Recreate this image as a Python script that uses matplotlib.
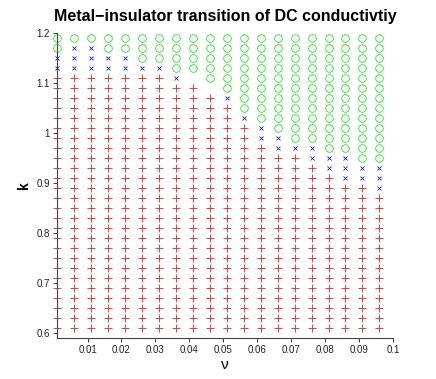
import numpy as np
import matplotlib
matplotlib.use('Agg')
import matplotlib.pyplot as plt

# nu values (columns) and k values (rows, top to bottom)
nu = [0.001, 0.006, 0.011, 0.016, 0.021, 0.026, 0.031, 0.036, 0.041, 0.046,
      0.051, 0.056, 0.061, 0.066, 0.071, 0.076, 0.081, 0.086, 0.091, 0.096]
k = [1.19, 1.17, 1.15, 1.13, 1.11, 1.09, 1.07, 1.05, 1.03, 1.01,
     0.99, 0.97, 0.95, 0.93, 0.91, 0.89, 0.87, 0.85, 0.83, 0.81,
     0.79, 0.77, 0.75, 0.73, 0.71, 0.69, 0.67, 0.65, 0.63, 0.61]

# phase per grid point: R = metal (+), B = transition (x), G = insulator (o), . = none
phase = [
    "GGGGGGGGGGGGGGGGGGGG",
    "GBBGGGGGGGGGGGGGGGGG",
    "BBBBBGGGGGGGGGGGGGGG",
    "BBBBBBBGGGGGGGGGGGGG",
    "RRRRRRRB.GGGGGGGGGGG",
    "RRRRRRRRR.GGGGGGGGGG",
    "RRRRRRRRRRBGGGGGGGGG",
    "RRRRRRRRRRRGGGGGGGGG",
    "RRRRRRRRRRRBGGGGGGGG",
    "RRRRRRRRRRRRBGGGGGGG",
    "RRRRRRRRRRRRBBGGGGGG",
    "RRRRRRRRRRRRRBBBGGGG",
    "RRRRRRRRRRRRRRRBBBGG",
    "RRRRRRRRRRRRRRRRBBBB",
    "RRRRRRRRRRRRRRRRRBBB",
    "RRRRRRRRRRRRRRRRRRRB",
] + ["RRRRRRRRRRRRRRRRRRRR"] * 14

plt.rcParams['font.family'] = ['Liberation Sans', 'DejaVu Sans']

fig = plt.figure(figsize=(4.36, 3.79), dpi=100)
ax = fig.add_axes([57/436, 1 - 338/379, (393 - 57)/436, (338 - 33)/379])

styles = {
    'R': dict(marker='+', color='#ff1a1a', ms=6, mew=0.6),
    'B': dict(marker='x', color='#1a1aff', ms=3.5, mew=0.6),
    'G': dict(marker='o', color='#22ee22', mfc='none', ms=5.5, mew=0.6),
}
for key, st in styles.items():
    xs, ys = [], []
    for i, row in enumerate(phase):
        for j, c in enumerate(row):
            if c == key:
                xs.append(nu[j])
                ys.append(k[i])
    ax.plot(xs, ys, linestyle='none', clip_on=False, **st)

ax.set_xlim(0.001, 0.1)
ax.set_ylim(0.59, 1.2)
ax.set_xticks([0.01, 0.02, 0.03, 0.04, 0.05, 0.06, 0.07, 0.08, 0.09, 0.1])
ax.set_xticklabels(['0.01', '0.02', '0.03', '0.04', '0.05', '0.06', '0.07', '0.08', '0.09', '0.1'])
ax.set_yticks([0.6, 0.7, 0.8, 0.9, 1.0, 1.1, 1.2])
ax.set_yticklabels(['0.6', '0.7', '0.8', '0.9', '1', '1.1', '1.2'])
ax.tick_params(direction='out', length=3, width=0.6, labelsize=7, pad=2, colors='#222222')
for s in ['top', 'right']:
    ax.spines[s].set_visible(False)
for s in ['left', 'bottom']:
    ax.spines[s].set_linewidth(0.8)
    ax.spines[s].set_color('#444444')

ax.set_xlabel('ν', fontsize=11, labelpad=2)
ax.set_ylabel('k', fontsize=10, fontweight='bold', labelpad=4)
ax.set_title('Metal\u2212insulator transition of DC conductivtiy',
             fontsize=11.5, fontweight='bold', pad=9)

fig.savefig('out.png', dpi=100)
